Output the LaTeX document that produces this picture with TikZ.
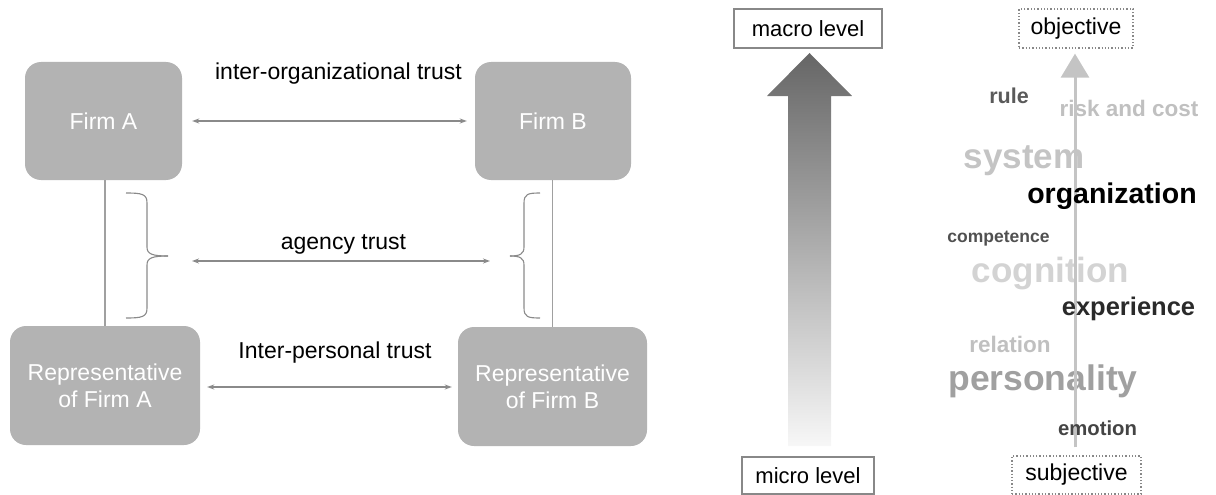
\documentclass[tikz,border=0pt]{standalone}
\usepackage{fontspec}
\setmainfont{Liberation Sans}
\usetikzlibrary{arrows.meta}
\definecolor{boxgray}{HTML}{B3B3B3}
\definecolor{linegray}{HTML}{8A8A8A}
\definecolor{vgray}{HTML}{A0A0A0}
\definecolor{framegray}{HTML}{888888}
\definecolor{thinarrow}{HTML}{C4C4C4}
\definecolor{cRule}{HTML}{5A5A5A}
\definecolor{cRisk}{HTML}{C0C0C0}
\definecolor{cSystem}{HTML}{C4C4C4}
\definecolor{cComp}{HTML}{505050}
\definecolor{cCog}{HTML}{D3D3D3}
\definecolor{cExp}{HTML}{2A2A2A}
\definecolor{cRel}{HTML}{C0C0C0}
\definecolor{cPers}{HTML}{A0A0A0}
\definecolor{cEmo}{HTML}{444444}
\definecolor{arrTop}{HTML}{666666}
\definecolor{arrBot}{HTML}{F7F7F7}
\tikzset{
  firmbox/.style={fill=boxgray, rounded corners=16pt, text=white, align=center,
    font=\fontsize{23}{27}\selectfont, inner sep=0pt},
  trustarr/.style={draw=linegray, line width=1.2pt, {Stealth[length=7pt,width=5pt]}-{Stealth[length=7pt,width=5pt]}},
  vline/.style={draw=vgray, line width=1.2pt},
  bracepath/.style={draw=linegray, line width=1.1pt},
  lbl/.style={anchor=base, inner sep=0pt, font=\fontsize{23}{23}\selectfont},
  levelbox/.style={draw=framegray, line width=1.8pt, fill=white, inner sep=0pt,
    font=\fontsize{22}{22}\selectfont},
  dotbox/.style={draw=framegray, line width=1.3pt, dotted, fill=white, inner sep=0pt,
    font=\fontsize{23}{23}\selectfont},
  word/.style={anchor=base, inner sep=0pt},
}
\begin{document}
\begin{tikzpicture}[x=1pt,y=-1pt]
\useasboundingbox (0,0) rectangle (1216,495);

% ---------- left diagram ----------
\node[firmbox, minimum width=157pt, minimum height=118pt] (fa) at (103.5,121) {Firm A};
\node[firmbox, minimum width=156pt, minimum height=118pt] (fb) at (553,121) {Firm B};
\node[firmbox, minimum width=190pt, minimum height=119pt] (ra) at (105,385.5) {Representative\\of Firm A};
\node[firmbox, minimum width=189pt, minimum height=119pt] (rb) at (552.5,386.5) {Representative\\of Firm B};

\draw[vline] (ra.north) -- (ra.north |- fa.south);
\draw[vline] (rb.north) -- (rb.north |- fb.south);

% braces
\draw[bracepath] (126,193) .. controls (142,193) and (147,194) .. (147,203) -- (147,247)
  .. controls (147,254) and (152,256) .. (168,256);
\draw[bracepath] (126,318) .. controls (142,318) and (147,317) .. (147,308) -- (147,265)
  .. controls (147,258) and (152,256) .. (168,256);
\draw[bracepath] (540,193) .. controls (528,193) and (524,194) .. (524,203) -- (524,247)
  .. controls (524,254) and (520,256) .. (510,256);
\draw[bracepath] (540,318) .. controls (528,318) and (524,317) .. (524,308) -- (524,265)
  .. controls (524,258) and (520,256) .. (510,256);

\coordinate (agA) at (192,261);
\coordinate (agB) at (490,261);

\draw[trustarr] ([xshift=10pt]fa.east) -- ([xshift=-8pt]fb.west);
\draw[trustarr] (agA) -- (agB);
\draw[trustarr] ([xshift=7pt,yshift=-1.5pt]ra.east) -- ([xshift=-6pt,yshift=-0.5pt]rb.west);

\node[lbl] (lio) at (338.5,80) {inter-organizational trust};
\node[lbl] (lag) at (343.5,249) {agency trust};
\node[lbl] (lip) at (335,358) {Inter-personal trust};

% ---------- macro / micro ----------
\node[levelbox, minimum width=148pt, minimum height=39pt] (macro) at (808,28.5) {macro level};
\node[levelbox, minimum width=132pt, minimum height=37pt] (micro) at (808,475.5) {micro level};
\shade[top color=arrTop, bottom color=arrBot]
  (809.5,53) -- (852,96) -- (831,96) -- (831,446) -- (788,446) -- (788,96) -- (767,96) -- cycle;

% ---------- objective / subjective ----------
\node[dotbox, minimum width=114pt, minimum height=39pt] (obj) at (1076,28.5) {objective};
\node[dotbox, minimum width=129pt, minimum height=38pt] (subj) at (1076.5,475) {subjective};

\node[word, text=cRisk, font=\bfseries\fontsize{22.5}{22.5}\selectfont] (wrisk) at (1129,117) {risk and cost};
\node[word, text=cSystem, font=\bfseries\fontsize{35}{35}\selectfont] (wsys) at (1024,168) {system};
\node[word, text=cCog, font=\bfseries\fontsize{35}{35}\selectfont] (wcog) at (1050.5,282) {cognition};
\node[word, text=cRel, font=\bfseries\fontsize{22.5}{22.5}\selectfont] (wrel) at (1010,352) {relation};
\node[word, text=cPers, font=\bfseries\fontsize{35.5}{35.5}\selectfont] (wpers) at (1043,390) {personality};

\draw[draw=thinarrow, line width=3pt, -{Triangle[length=24pt,width=28pt]},
  shorten <=8pt, shorten >=5pt] ([xshift=-1.5pt]subj.north) -- ([xshift=-1pt]obj.south);

\node[word, text=cRule, font=\bfseries\fontsize{21.5}{21.5}\selectfont] (wrule) at (1009,103) {rule};
\node[word, text=black, font=\bfseries\fontsize{28.5}{28.5}\selectfont] (worg) at (1112,203) {organization};
\node[word, text=cComp, font=\bfseries\fontsize{17.5}{17.5}\selectfont] (wcomp) at (998.5,242) {competence};
\node[word, text=cExp, font=\bfseries\fontsize{25.5}{25.5}\selectfont] (wexp) at (1128.5,315) {experience};
\node[word, text=cEmo, font=\bfseries\fontsize{20.3}{20.3}\selectfont] (wemo) at (1097.5,435) {emotion};
\end{tikzpicture}
\end{document}
